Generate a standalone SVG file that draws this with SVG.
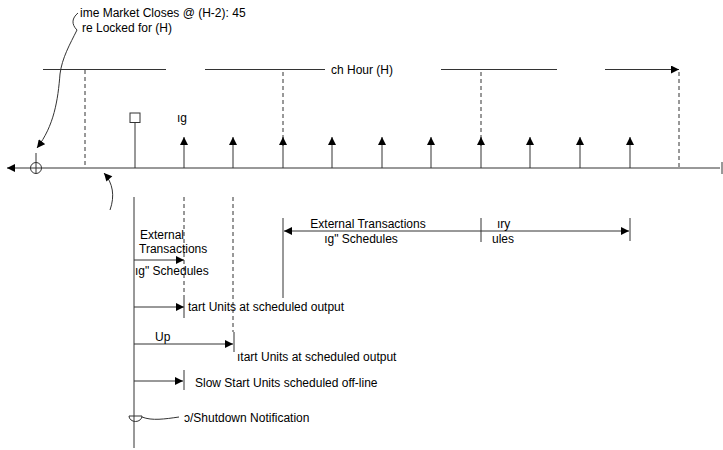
<svg xmlns="http://www.w3.org/2000/svg" width="723" height="450" viewBox="0 0 723 450">
<defs>
<style>
text{font-family:"Liberation Sans",Arial,sans-serif;font-size:12px;fill:#000}
.ln{stroke:#333;stroke-width:1;fill:none}
.dash{stroke:#333;stroke-width:1;fill:none;stroke-dasharray:4,3}
.tip{marker-end:url(#ah)}
</style>
<marker id="ah" viewBox="0 0 10 10" refX="10" refY="5" markerWidth="9" markerHeight="8" markerUnits="userSpaceOnUse" orient="auto"><path d="M0,0L10,5L0,10z" fill="#000"/></marker>
<marker id="ahs" viewBox="0 0 10 10" refX="0" refY="5" markerWidth="9" markerHeight="8" markerUnits="userSpaceOnUse" orient="auto"><path d="M10,0L0,5L10,10z" fill="#000"/></marker>
</defs>
<rect width="723" height="450" fill="#fff"/>

<g id="connectors">
<line class="ln" x1="43" y1="69.5" x2="166" y2="69.5"/>
<line class="ln" x1="205" y1="69.5" x2="325" y2="69.5"/>
<line class="ln" x1="441" y1="69.5" x2="557" y2="69.5"/>
<line class="ln tip" x1="605" y1="69.5" x2="679" y2="69.5"/>
<line class="dash" x1="85" y1="70" x2="85" y2="168"/>
<line class="dash" x1="283" y1="72" x2="283" y2="146"/>
<line class="dash" x1="481" y1="72" x2="481" y2="146"/>
<line class="dash" x1="679" y1="72" x2="679" y2="168"/>
<line class="ln" x1="720" y1="168" x2="7" y2="168" marker-end="url(#ah)"/>
<line class="ln" x1="722" y1="162" x2="722" y2="174"/>
<line class="ln tip" x1="184" y1="168" x2="184" y2="137"/>
<line class="ln tip" x1="233" y1="168" x2="233" y2="137"/>
<line class="ln tip" x1="283" y1="168" x2="283" y2="137"/>
<line class="ln tip" x1="332" y1="168" x2="332" y2="137"/>
<line class="ln tip" x1="382" y1="168" x2="382" y2="137"/>
<line class="ln tip" x1="431" y1="168" x2="431" y2="137"/>
<line class="ln tip" x1="481" y1="168" x2="481" y2="137"/>
<line class="ln tip" x1="530" y1="168" x2="530" y2="137"/>
<line class="ln tip" x1="580" y1="168" x2="580" y2="137"/>
<line class="ln tip" x1="630" y1="168" x2="630" y2="137"/>
<path class="ln tip" d="M78,13 C72,18 71,24 77,30 C70,44 62,58 60,74 C58,100 54,126 37,148"/>
<path class="ln tip" d="M110,210 C115,196 113,183 104,173"/>
<line class="ln" x1="134" y1="197" x2="134" y2="448"/>
<line class="dash" x1="184" y1="197" x2="184" y2="297"/>
<line class="dash" x1="233" y1="197" x2="233" y2="332"/>
<line class="ln tip" x1="134" y1="260" x2="184" y2="260"/>
<line class="ln tip" x1="134" y1="307" x2="184" y2="307"/>
<line class="ln" x1="184" y1="297" x2="184" y2="318"/>
<line class="ln tip" x1="134" y1="344" x2="233" y2="344"/>
<line class="ln" x1="234" y1="332" x2="234" y2="352"/>
<line class="ln tip" x1="134" y1="381" x2="183" y2="381"/>
<line class="ln" x1="184" y1="370" x2="184" y2="390"/>
<path class="ln" d="M129,416 L142,416 A6.5,5.5 0 0 1 129,416 Z"/>
<path class="ln" d="M142,417 C152,421 165,419 179,417"/>
<line class="ln" x1="283" y1="218" x2="283" y2="298"/>
<line class="ln" x1="284" y1="231" x2="629" y2="231" marker-start="url(#ahs)" marker-end="url(#ah)"/>
<line class="ln" x1="481" y1="218" x2="481" y2="242"/>
<line class="ln" x1="630" y1="218" x2="630" y2="241"/>
</g>

<g id="market-close">
<text x="80" y="17">ime Market Closes @ (H-2): 45</text>
<text x="82" y="32">re Locked for (H)</text>
</g>
<g id="dispatch-hour">
<text x="331" y="74">ch Hour (H)</text>
</g>
<g id="origin">
<circle cx="36" cy="168" r="5.5" fill="none" stroke="#333"/>
<line class="ln" x1="36" y1="153" x2="36" y2="173.5"/>
</g>
<g id="marker-square">
<rect x="130" y="113" width="10" height="9.5" fill="#fff" stroke="#333"/>
<line class="ln" x1="135" y1="122.5" x2="135" y2="168"/>
<text x="177" y="122">ıg</text>
</g>
<g id="external-left">
<text x="140" y="239">External</text>
<text x="139" y="253">Transactions</text>
<text x="135" y="275">ıg" Schedules</text>
</g>
<g id="start-units-1">
<text x="188" y="311">tart Units at scheduled output</text>
</g>
<g id="up">
<text x="155" y="341">Up</text>
<text x="237" y="361">ıtart Units at scheduled output</text>
</g>
<g id="slow-start">
<text x="195" y="387">Slow Start Units scheduled off-line</text>
</g>
<g id="shutdown">
<text x="184" y="422">ɔ/Shutdown Notification</text>
</g>
<g id="external-right">
<text x="368" y="228" text-anchor="middle">External Transactions</text>
<text x="361" y="243" text-anchor="middle">ıg" Schedules</text>
<text x="497" y="228">ıry</text>
<text x="492" y="243">ules</text>
</g>
</svg>
